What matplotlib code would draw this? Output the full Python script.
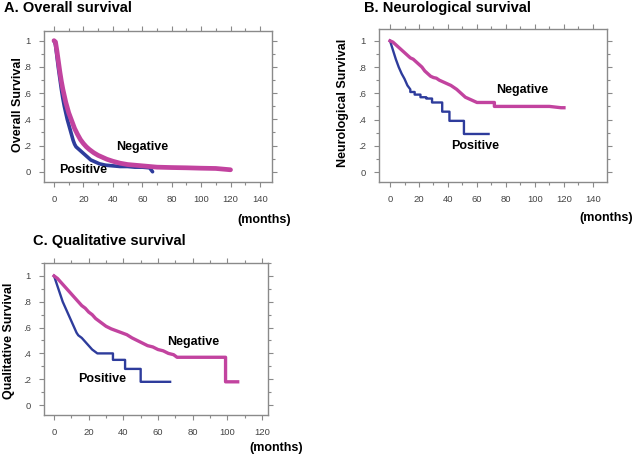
import matplotlib
matplotlib.use("Agg")
import matplotlib.pyplot as plt
from matplotlib.ticker import MultipleLocator, FixedLocator

plt.rcParams['font.family'] = ['Liberation Sans', 'DejaVu Sans']

# ---------------- data ----------------
# Panel A: overall survival
a_neg_t = [0, 1, 2, 3, 4, 5, 6, 7, 8, 9, 10, 12, 14, 16, 18, 20, 22, 24, 27, 30, 33, 36, 40,
           45, 50, 55, 60, 65, 70, 80, 90, 100, 110, 115, 120]
a_neg_s = [1.0, 0.99, 0.92, 0.84, 0.76, 0.69, 0.63, 0.58, 0.53, 0.49, 0.45, 0.39, 0.33, 0.285,
           0.245, 0.215, 0.19, 0.17, 0.145, 0.125, 0.11, 0.095, 0.08, 0.065, 0.055, 0.05, 0.045,
           0.04, 0.035, 0.032, 0.03, 0.027, 0.025, 0.02, 0.015]
a_pos_t = [0, 1, 2, 3, 4, 5, 6, 7, 8, 9, 10, 11, 12, 13, 14, 15, 17, 19, 21, 23, 25, 28, 31,
           35, 40, 45, 50, 55, 60, 65, 67]
a_pos_s = [1.0, 0.97, 0.88, 0.79, 0.71, 0.63, 0.56, 0.50, 0.45, 0.40, 0.36, 0.32, 0.28, 0.24,
           0.21, 0.19, 0.17, 0.15, 0.13, 0.11, 0.09, 0.075, 0.06, 0.05, 0.045, 0.04, 0.04,
           0.035, 0.035, 0.03, 0.0]

# Panel B: neurological survival (repeated times mark vertical drops)
b_neg_t = [0, 2, 4, 6, 8, 10, 12, 14, 16, 18, 20, 22, 24, 26, 28, 30, 32, 34, 36, 38, 40, 42,
           44, 46, 48, 50, 52, 54, 56, 58, 60, 64, 68, 72, 72, 80, 90, 100, 110, 118, 120]
b_neg_s = [1.0, 0.99, 0.97, 0.95, 0.93, 0.91, 0.89, 0.87, 0.86, 0.84, 0.82, 0.80, 0.77, 0.75,
           0.73, 0.72, 0.715, 0.70, 0.69, 0.68, 0.67, 0.66, 0.645, 0.63, 0.61, 0.59, 0.57, 0.56,
           0.55, 0.54, 0.53, 0.53, 0.53, 0.53, 0.50, 0.50, 0.50, 0.50, 0.50, 0.49, 0.49]
b_pos_t = [0, 2, 4, 6, 8, 10, 12, 14, 14, 17, 17, 21, 21, 25, 25, 29, 29, 36, 36, 41, 41, 51,
           51, 68]
b_pos_s = [1.0, 0.93, 0.86, 0.80, 0.75, 0.71, 0.66, 0.63, 0.61, 0.61, 0.59, 0.59, 0.57, 0.57,
           0.56, 0.56, 0.53, 0.53, 0.46, 0.46, 0.39, 0.39, 0.29, 0.29]

# Panel C: qualitative survival
c_neg_t = [0, 2, 4, 6, 8, 10, 12, 14, 16, 18, 20, 22, 24, 26, 28, 30, 33, 36, 39, 42, 45, 48,
           51, 54, 57, 60, 63, 66, 69, 71, 80, 90, 99, 99, 106]
c_neg_s = [1.0, 0.98, 0.95, 0.92, 0.89, 0.86, 0.83, 0.80, 0.77, 0.75, 0.72, 0.70, 0.67, 0.65,
           0.63, 0.61, 0.59, 0.575, 0.56, 0.545, 0.52, 0.50, 0.48, 0.46, 0.45, 0.43, 0.42, 0.40,
           0.39, 0.37, 0.37, 0.37, 0.37, 0.18, 0.18]
c_pos_t = [0, 1, 2, 3, 4, 5, 6, 7, 8, 9, 10, 11, 12, 13, 14, 16, 18, 20, 22, 25, 34, 34, 41,
           41, 50, 50, 67]
c_pos_s = [1.0, 0.96, 0.92, 0.88, 0.84, 0.80, 0.77, 0.74, 0.71, 0.68, 0.65, 0.62, 0.59, 0.56,
           0.54, 0.52, 0.49, 0.46, 0.43, 0.40, 0.40, 0.35, 0.35, 0.28, 0.28, 0.18, 0.18]

y_ticks = [0, 0.2, 0.4, 0.6, 0.8, 1.0]
y_ticklabels = ["0", ".2", ".4", ".6", ".8", "1"]

MAG = "#C2439F"
BLUE = "#2E3C9C"
SPINE = "#8A8A8A"
TICKC = "#444444"

fig = plt.figure(figsize=(6.34, 4.63), dpi=100)
W, H = 634, 463


def add_axes(left, top, right, bottom):
    return fig.add_axes([left / W, (H - bottom) / H, (right - left) / W, (bottom - top) / H])


def style(ax, xmax_tick, xlim, ylim):
    ax.set_xlim(*xlim)
    ax.set_ylim(*ylim)
    ax.xaxis.set_major_locator(FixedLocator(list(range(0, xmax_tick + 1, 20))))
    ax.xaxis.set_minor_locator(MultipleLocator(10))
    ax.yaxis.set_major_locator(FixedLocator(y_ticks))
    ax.yaxis.set_minor_locator(MultipleLocator(0.1))
    ax.set_yticklabels(y_ticklabels)
    ax.tick_params(which='both', direction='out', top=True, right=True,
                   color=SPINE, width=0.8, labelcolor=TICKC, labelsize=6.8)
    ax.tick_params(which='major', length=3.5, pad=6)
    ax.tick_params(which='minor', length=2.5)
    for s in ax.spines.values():
        s.set_color(SPINE)
        s.set_linewidth(1.0)


# Panel A
axA = add_axes(44, 30.7, 271.7, 181.7)
axA.plot(a_pos_t, a_pos_s, color=BLUE, lw=2.6, solid_capstyle='round')
axA.plot(a_neg_t, a_neg_s, color=MAG, lw=3.4, solid_capstyle='round')
style(axA, 140, (-6.8, 148), (-0.076, 1.076))
axA.text(60, 0.19, "Negative", ha='center', va='center', fontsize=9, fontweight='bold')
axA.text(20, 0.01, "Positive", ha='center', va='center', fontsize=9, fontweight='bold')

# Panel B
axB = add_axes(379, 29, 607, 182)
axB.plot(b_pos_t, b_pos_s, color=BLUE, lw=1.7)
axB.plot(b_neg_t, b_neg_s, color=MAG, lw=2.4)
style(axB, 140, (-7.6, 149.7), (-0.076, 1.09))
axB.text(91, 0.626, "Negative", ha='center', va='center', fontsize=9, fontweight='bold')
axB.text(59, 0.20, "Positive", ha='center', va='center', fontsize=9, fontweight='bold')

# Panel C
axC = add_axes(44, 263, 268, 415)
axC.plot(c_pos_t, c_pos_s, color=BLUE, lw=1.7)
axC.plot(c_neg_t, c_neg_s, color=MAG, lw=2.4)
style(axC, 120, (-5.8, 123.5), (-0.077, 1.10))
axC.text(80.4, 0.49, "Negative", ha='center', va='center', fontsize=9, fontweight='bold')
axC.text(27.5, 0.20, "Positive", ha='center', va='center', fontsize=9, fontweight='bold')


def ftext(x, y, s, **kw):
    fig.text(x / W, 1 - y / H, s, **kw)


ftext(4, 8, "A. Overall survival", ha='left', va='center', fontsize=10.5, fontweight='bold')
ftext(364, 8, "B. Neurological survival", ha='left', va='center', fontsize=10.5, fontweight='bold')
ftext(33, 241, "C. Qualitative survival", ha='left', va='center', fontsize=10.5, fontweight='bold')

ftext(18, 105, "Overall Survival", ha='center', va='center', rotation=90, fontsize=9, fontweight='bold')
ftext(343, 103, "Neurological Survival", ha='center', va='center', rotation=90, fontsize=9, fontweight='bold')
ftext(9.5, 341, "Qualitative Survival", ha='center', va='center', rotation=90, fontsize=9, fontweight='bold')

ftext(264, 220, "(months)", ha='center', va='center', fontsize=9, fontweight='bold')
ftext(606, 218, "(months)", ha='center', va='center', fontsize=9, fontweight='bold')
ftext(276, 448, "(months)", ha='center', va='center', fontsize=9, fontweight='bold')

fig.savefig("out.png", dpi=100)
